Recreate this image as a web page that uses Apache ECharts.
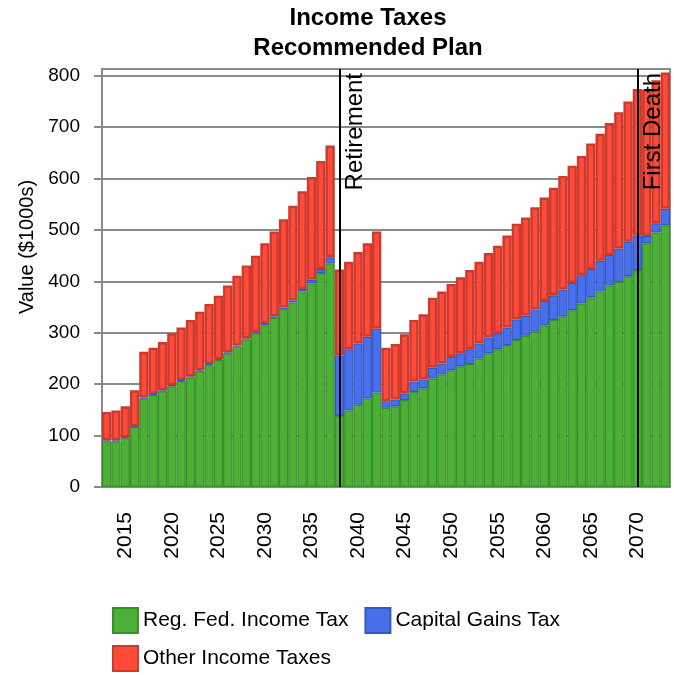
<!DOCTYPE html>
<html>
<head>
<meta charset="utf-8">
<script src="https://cdn.jsdelivr.net/npm/echarts@6/dist/echarts.min.js"></script>
<style>
  html, body { margin: 0; padding: 0; background: #fff; }
  #chart { width: 674px; height: 675px; }
</style>
</head>
<body>
<div id="chart"></div>
<script>
// Plan years
const years = [
  '2013','2014','2015','2016','2017','2018','2019','2020','2021','2022',
  '2023','2024','2025','2026','2027','2028','2029','2030','2031','2032',
  '2033','2034','2035','2036','2037','2038','2039','2040','2041','2042',
  '2043','2044','2045','2046','2047','2048','2049','2050','2051','2052',
  '2053','2054','2055','2056','2057','2058','2059','2060','2061','2062',
  '2063','2064','2065','2066','2067','2068','2069','2070','2071','2072',
  '2073'
];

// Tax amounts, $1000s
const regFedIncomeTax = [
  89, 89, 95, 117, 172, 179, 186, 196, 206, 213,
  225, 237, 247, 260, 273, 287, 299, 314, 329, 345,
  359, 380, 396, 416, 435, 138, 149, 160, 172, 184,
  154, 157, 169, 185, 192, 211, 219, 227, 235, 239,
  250, 260, 268, 276, 286, 294, 302, 314, 325, 332,
  344, 357, 369, 380, 392, 399, 410, 422, 474, 495,
  509
];
const capitalGainsTax = [
  2, 2, 2, 1, 2, 2, 2, 2, 2, 2,
  2, 2, 2, 2, 2, 2, 2, 3, 3, 4,
  4, 5, 7, 8, 12, 118, 119, 119, 120, 124,
  13, 13, 13, 20, 17, 21, 21, 26, 25, 29,
  29, 31, 31, 34, 40, 39, 43, 48, 48, 52,
  53, 55, 55, 60, 59, 65, 67, 67, 14, 18,
  32
];
const otherIncomeTaxes = [
  55, 58, 60, 70, 89, 90, 94, 101, 102, 110,
  114, 117, 123, 130, 136, 142, 149, 157, 165, 172,
  184, 190, 200, 210, 217, 167, 170, 178, 182, 189,
  104, 108, 115, 120, 127, 136, 140, 142, 148, 154,
  159, 164, 170, 179, 186, 191, 199, 201, 209, 221,
  228, 232, 244, 247, 257, 265, 273, 285, 285, 278,
  265
];

// Value axis ticks
const yTicks = [0, 100, 200, 300, 400, 500, 600, 700, 800];

// Life events marked on the timeline
const eventYears = ['2038', '2070'];
const eventLabels = ['Retirement', 'First Death'];

const FONT = '"Liberation Sans", Arial, sans-serif';

const chart = echarts.init(document.getElementById('chart'), null, { renderer: 'canvas' });

const yearTick = (idx, val) => Number(val) % 5 === 0;

const option = {
  animation: false,
  backgroundColor: '#fff',
  textStyle: { fontFamily: FONT, color: '#000' },
  graphic: [
    { type: 'text', x: 368, y: 18.5, silent: true,
      style: { text: 'Income Taxes', fill: '#000', font: 'bold 24px ' + FONT,
               align: 'center', verticalAlign: 'middle' } },
    { type: 'text', x: 368, y: 48.5, silent: true,
      style: { text: 'Recommended Plan', fill: '#000', font: 'bold 24px ' + FONT,
               align: 'center', verticalAlign: 'middle' } },
    { type: 'text', x: 27, y: 247, rotation: Math.PI / 2, silent: true,
      style: { text: 'Value ($1000s)', fill: '#000', font: '20px ' + FONT,
               align: 'center', verticalAlign: 'middle' } }
  ],
  grid: {
    left: 102, right: 4, top: 69, bottom: 188,
    show: true, borderColor: '#8a8a8a', borderWidth: 2,
    outerBoundsMode: 'none'
  },
  legend: [
    {
      data: ['Reg. Fed. Income Tax', 'Capital Gains Tax'],
      left: 107, top: 602, itemWidth: 25, itemHeight: 25, itemGap: 16,
      icon: 'rect',
      textStyle: { fontSize: 21, color: '#000', fontFamily: FONT }
    },
    {
      data: ['Other Income Taxes'],
      left: 107, top: 640, itemWidth: 25, itemHeight: 25,
      icon: 'rect',
      textStyle: { fontSize: 21, color: '#000', fontFamily: FONT }
    }
  ],
  xAxis: {
    type: 'category',
    data: years,
    boundaryGap: true,
    axisLine: { lineStyle: { color: '#8a8a8a', width: 2 } },
    axisTick: { interval: yearTick, alignWithLabel: true, length: 8,
                lineStyle: { color: '#8a8a8a', width: 2 } },
    axisLabel: { interval: yearTick, rotate: 90, margin: 25,
                 fontSize: 21, color: '#000', fontFamily: FONT },
    splitLine: { show: false }
  },
  yAxis: {
    type: 'value',
    min: 0, max: 813, interval: 100,
    axisLine: { show: true, lineStyle: { color: '#8a8a8a', width: 2 } },
    axisTick: { show: true, length: 8, customValues: yTicks,
                lineStyle: { color: '#8a8a8a', width: 2 } },
    axisLabel: { customValues: yTicks, margin: 22, fontSize: 19,
                 color: '#000', fontFamily: FONT },
    splitLine: { lineStyle: { color: '#8a8a8a', width: 2 } }
  },
  series: [
    {
      name: 'Reg. Fed. Income Tax', type: 'bar', stack: 'tax',
      barCategoryGap: '0%', data: regFedIncomeTax,
      itemStyle: { color: '#4BB035', borderColor: '#3A8E2A', borderWidth: 1.2 }
    },
    {
      name: 'Capital Gains Tax', type: 'bar', stack: 'tax',
      barCategoryGap: '0%', data: capitalGainsTax,
      itemStyle: { color: '#4770EA', borderColor: '#3557C2', borderWidth: 1.2 }
    },
    {
      name: 'Other Income Taxes', type: 'bar', stack: 'tax',
      barCategoryGap: '0%', data: otherIncomeTaxes,
      itemStyle: { color: '#FF4B3A', borderColor: '#CC3A2E', borderWidth: 2.4 },
      markLine: {
        silent: true, symbol: 'none', z: 10,
        lineStyle: { color: '#000', width: 2, type: 'solid' },
        label: { show: true, position: 'insideEndBottom', formatter: '{b}',
                 fontSize: 24, color: '#000', fontFamily: FONT, distance: 4 },
        emphasis: { disabled: true },
        data: eventYears.map((y, i) => ({ xAxis: y, name: eventLabels[i] }))
      }
    }
  ]
};

chart.setOption(option);
</script>
</body>
</html>
